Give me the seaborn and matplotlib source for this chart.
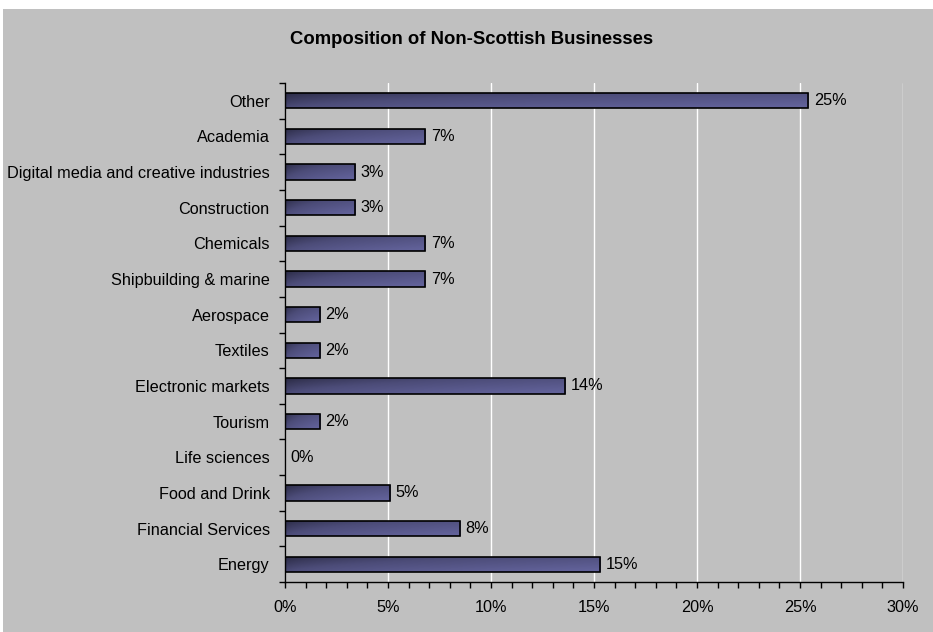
import numpy as np
import pandas as pd
import matplotlib
matplotlib.use("Agg")
import matplotlib.pyplot as plt
from matplotlib.colors import LinearSegmentedColormap
from matplotlib.patches import Rectangle
from matplotlib.ticker import PercentFormatter, MultipleLocator
import seaborn as sns

# Share of businesses per sector (fractions of the total)
sectors = [
    "Other", "Academia", "Digital media and creative industries", "Construction",
    "Chemicals", "Shipbuilding & marine", "Aerospace", "Textiles",
    "Electronic markets", "Tourism", "Life sciences", "Food and Drink",
    "Financial Services", "Energy",
]
shares = [0.254, 0.068, 0.034, 0.034, 0.068, 0.068, 0.017, 0.017,
          0.136, 0.017, 0.0, 0.051, 0.085, 0.153]
title = "Composition of Non-Scottish Businesses"

sns.set_style("ticks")
plt.rcParams["font.family"] = ["Liberation Sans", "DejaVu Sans"]

W, H = 933, 632
fig = plt.figure(figsize=(W / 100, H / 100), dpi=100, facecolor="white")
# grey chart area
fig.patches.append(Rectangle((3 / W, 0), 1 - 3 / W, 1 - 9 / H,
                             transform=fig.transFigure, facecolor="#C0C0C0",
                             edgecolor="none", zorder=-10))

ax = fig.add_axes([285 / W, 1 - 582 / H, (903 - 285) / W, (582 - 83) / H])
ax.set_facecolor("#C0C0C0")

df = pd.DataFrame({"sector": sectors, "share": shares})
sns.barplot(data=df, x="share", y="sector", orient="h", color="#4a4a75",
            width=0.43, ax=ax, zorder=3)

ax.set_xlim(0, 0.30)
ax.set_ylim(len(sectors) - 0.5, -0.5)

# diagonal shaded fill for each bar
cmap = LinearSegmentedColormap.from_list("bar", ["#27273f", "#4c4c78", "#62629a"])
nx, ny = 200, 20
xx = np.linspace(0, 1, nx)[None, :]
yy = np.linspace(0, 1, ny)[:, None]
grad = np.clip(0.6 * np.sqrt(xx) + 0.45 * yy, 0, 1)
for p in ax.patches:
    x0, y0 = p.get_x(), p.get_y()
    w, h = p.get_width(), p.get_height()
    p.set_facecolor("none")
    p.set_edgecolor("black")
    p.set_linewidth(1.2)
    p.set_zorder(4)
    if w <= 0:
        continue
    im = ax.imshow(grad, cmap=cmap, vmin=0, vmax=1, aspect="auto",
                   extent=[x0, x0 + w, y0 + h, y0], origin="upper",
                   interpolation="bilinear", zorder=3)
    im.set_clip_path(p)

ax.set_xlim(0, 0.30)
ax.set_ylim(len(sectors) - 0.5, -0.5)

# value labels
for i, v in enumerate(shares):
    ax.annotate(f"{v:.0%}", xy=(v, i), xytext=(4, 0), textcoords="offset points",
                ha="left", va="center", fontsize=11.7, color="black", zorder=5)

# axes styling
ax.xaxis.set_major_locator(MultipleLocator(0.05))
ax.xaxis.set_minor_locator(MultipleLocator(0.01))
ax.xaxis.set_major_formatter(PercentFormatter(1, decimals=0))
ax.grid(axis="x", which="major", color="white", linewidth=1.0, zorder=0)
ax.grid(axis="y", visible=False)
ax.set_axisbelow(True)

ax.set_yticks(range(len(sectors)))
ax.set_yticks(np.arange(-0.5, len(sectors), 1.0), minor=True)
ax.tick_params(axis="y", which="major", length=0, pad=11, labelsize=11.7,
               labelcolor="black")
ax.tick_params(axis="y", which="minor", length=4, width=1, color="black",
               direction="out")
ax.tick_params(axis="x", which="both", length=4, width=1, color="black",
               direction="out")
ax.tick_params(axis="x", which="major", pad=9, labelsize=11.7, labelcolor="black")

for s in ["top", "right"]:
    ax.spines[s].set_visible(False)
for s in ["left", "bottom"]:
    ax.spines[s].set_color("black")
    ax.spines[s].set_linewidth(1.0)
    ax.spines[s].set_zorder(6)

ax.set_xlabel("")
ax.set_ylabel("")

fig.text(472 / W, 1 - 39 / H, title, ha="center", va="center",
         fontsize=13.3, fontweight="bold", color="black")

fig.savefig("out.png", dpi=100, facecolor="white")
